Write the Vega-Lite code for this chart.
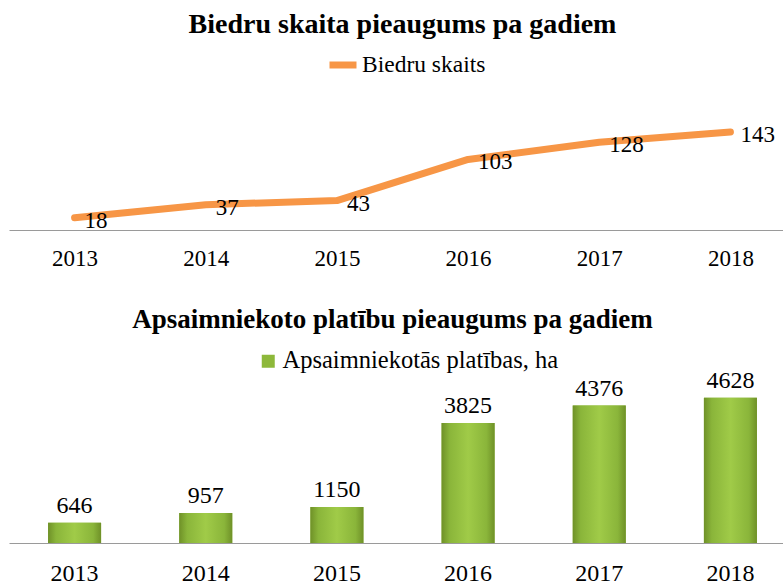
{
  "$schema": "https://vega.github.io/schema/vega-lite/v6.json",
  "padding": {"left": 9, "top": 11, "right": 0, "bottom": 0},
  "background": "white",
  "spacing": 36,
  "config": {
    "font": "Liberation Serif",
    "view": {"stroke": null},
    "axis": {"domainColor": "#9a9a9a", "domainWidth": 1.2, "ticks": false, "grid": false, "labelColor": "black", "labelFont": "Liberation Serif", "labelAngle": 0, "title": null},
    "legend": {"labelLimit": 500, "labelFont": "Liberation Serif"}
  },
  "datasets": {
    "members": [
      {"year": "2013", "value": 18, "series": "Biedru skaits"},
      {"year": "2014", "value": 37, "series": "Biedru skaits"},
      {"year": "2015", "value": 43, "series": "Biedru skaits"},
      {"year": "2016", "value": 103, "series": "Biedru skaits"},
      {"year": "2017", "value": 128, "series": "Biedru skaits"},
      {"year": "2018", "value": 143, "series": "Biedru skaits"}
    ],
    "area": [
      {"year": "2013", "value": 646, "series": "Apsaimniekotās platības, ha"},
      {"year": "2014", "value": 957, "series": "Apsaimniekotās platības, ha"},
      {"year": "2015", "value": 1150, "series": "Apsaimniekotās platības, ha"},
      {"year": "2016", "value": 3825, "series": "Apsaimniekotās platības, ha"},
      {"year": "2017", "value": 4376, "series": "Apsaimniekotās platības, ha"},
      {"year": "2018", "value": 4628, "series": "Apsaimniekotās platības, ha"}
    ]
  },
  "resolve": {"scale": {"color": "independent"}, "legend": {"color": "independent"}},
  "vconcat": [
    {
      "width": 787,
      "height": 137,
      "title": {"text": "Biedru skaita pieaugums pa gadiem", "font": "Liberation Serif", "fontSize": 28, "fontWeight": "bold", "anchor": "middle", "offset": 9, "color": "black"},
      "data": {"name": "members"},
      "encoding": {
        "x": {"field": "year", "type": "ordinal", "scale": {"type": "point", "padding": 0.5}, "axis": {"labelFontSize": 23, "labelPadding": 17}},
        "y": {"field": "value", "type": "quantitative", "scale": {"domain": [0, 200]}, "axis": null}
      },
      "layer": [
        {
          "mark": {"type": "line", "strokeWidth": 7, "strokeCap": "round", "strokeJoin": "round"},
          "encoding": {
            "color": {"field": "series", "type": "nominal", "scale": {"range": ["#F79646"]},
              "legend": {"title": null, "orient": "none", "legendX": 317, "legendY": -45, "symbolType": "stroke", "symbolStrokeWidth": 7, "symbolSize": 729, "labelFontSize": 23.5, "labelColor": "black", "labelOffset": 2}}
          }
        },
        {
          "mark": {"type": "text", "align": "left", "baseline": "middle", "dx": 10, "dy": 3, "font": "Liberation Serif", "fontSize": 23, "color": "black"},
          "encoding": {"text": {"field": "value", "type": "quantitative"}}
        }
      ]
    },
    {
      "width": 787,
      "height": 157,
      "title": {"text": "Apsaimniekoto platību pieaugums pa gadiem", "font": "Liberation Serif", "fontSize": 27, "fontWeight": "bold", "anchor": "middle", "offset": 15, "dx": -10, "color": "black"},
      "data": {"name": "area"},
      "encoding": {
        "x": {"field": "year", "type": "ordinal", "scale": {"type": "band", "paddingInner": 0, "paddingOuter": 0}, "axis": {"labelFontSize": 24, "labelPadding": 18}},
        "y": {"field": "value", "type": "quantitative", "scale": {"domain": [0, 5000]}, "axis": null}
      },
      "layer": [
        {
          "mark": {"type": "bar", "size": 53},
          "encoding": {
            "color": {"field": "series", "type": "nominal", "scale": {"range": ["#8DB83A"]},
              "legend": {"title": null, "orient": "none", "legendX": 247, "legendY": -37, "symbolType": "square", "symbolSize": 169, "labelFontSize": 24.5, "labelColor": "black", "labelOffset": 2}}
          }
        },
        {
          "mark": {"type": "bar", "size": 53, "color": {"gradient": "linear", "x1": 0, "y1": 0, "x2": 1, "y2": 0, "stops": [{"offset": 0, "color": "#6F9128"}, {"offset": 0.15, "color": "#8AB53A"}, {"offset": 0.5, "color": "#A0CB48"}, {"offset": 0.85, "color": "#8AB53A"}, {"offset": 1, "color": "#6F9128"}]}}
        },
        {
          "mark": {"type": "text", "align": "center", "baseline": "bottom", "dy": -5, "font": "Liberation Serif", "fontSize": 24, "color": "black"},
          "encoding": {"text": {"field": "value", "type": "quantitative", "format": "d"}}
        }
      ]
    }
  ]
}
